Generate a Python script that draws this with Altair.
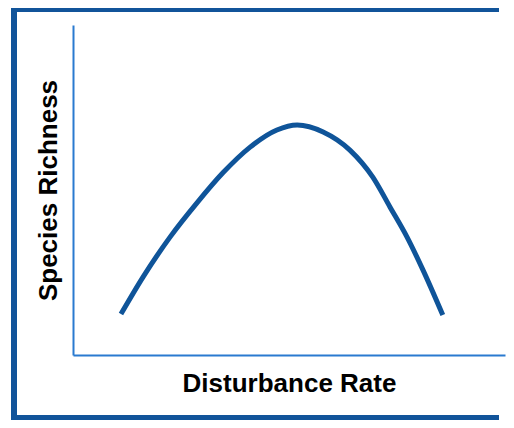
import altair as alt
import pandas as pd

# Hump-shaped curve (intermediate disturbance hypothesis)
disturbance = [1.11, 1.62, 2.25, 2.87, 3.47, 4.10, 4.72, 5.19, 5.79, 6.41, 6.94, 7.34, 7.73, 8.10, 8.56]
richness = [1.24, 2.36, 3.58, 4.61, 5.52, 6.30, 6.82, 6.97, 6.76, 6.21, 5.39, 4.48, 3.58, 2.58, 1.21]
x_title = "Disturbance Rate"
y_title = "Species Richness"

df = pd.DataFrame({"disturbance": disturbance, "richness": richness})

curve_color = "#0f5499"
axis_color = "#2a7ad0"
frame_color = "#11549a"
font = "Liberation Sans"

line = alt.Chart(df).mark_line(
    color=curve_color, strokeWidth=5, interpolate="monotone", strokeCap="butt"
).encode(
    x=alt.X(
        "disturbance:Q",
        scale=alt.Scale(domain=[0, 10], nice=False, zero=False),
        axis=alt.Axis(
            title=x_title, domainColor=axis_color, domainWidth=2,
            ticks=False, labels=False, grid=False,
            titleFont=font, titleFontSize=26, titleFontWeight="bold",
            titleColor="#000000", titlePadding=15,
        ),
    ),
    y=alt.Y(
        "richness:Q",
        scale=alt.Scale(domain=[0, 10], nice=False, zero=False),
        axis=alt.Axis(
            title=y_title, domainColor=axis_color, domainWidth=2,
            ticks=False, labels=False, grid=False,
            titleFont=font, titleFontSize=26, titleFontWeight="bold",
            titleColor="#000000", titlePadding=12,
        ),
    ),
)

# decorative frame (left, top, bottom edges; the right edge lies off the page)
frame_left = alt.Chart(df).mark_rule(color=frame_color, strokeWidth=5).encode(
    x=alt.value(-59), y=alt.value(-18), y2=alt.value(395),
)
frame_top = alt.Chart(df).mark_rule(color=frame_color, strokeWidth=5).encode(
    x=alt.value(-61.5), x2=alt.value(426), y=alt.value(-15.5),
)
frame_bottom = alt.Chart(df).mark_rule(color=frame_color, strokeWidth=5).encode(
    x=alt.value(-61.5), x2=alt.value(426), y=alt.value(392.5),
)

chart = alt.layer(frame_left, frame_top, frame_bottom, line).properties(
    width=432, height=330,
    autosize=alt.AutoSizeParams(type="none"),
    padding={"left": 65, "top": 17, "right": 1, "bottom": 65},
    background="white",
).configure_view(stroke=None)

chart.save("out.html", embed_options={"renderer": "svg", "actions": False})
